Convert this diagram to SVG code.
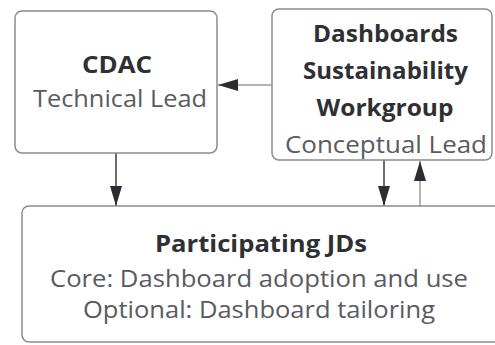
<svg xmlns="http://www.w3.org/2000/svg" width="495" height="345" viewBox="0 0 495 345">
  <defs>
    <marker id="head" viewBox="0 0 20 12" refX="20" refY="6" markerWidth="20" markerHeight="12" markerUnits="userSpaceOnUse" orient="auto">
      <path d="M0,0 L20,6 L0,12 Z" fill="#2b2d33"/>
    </marker>
    <style>
      .box { fill: #ffffff; stroke: #8c8c8c; stroke-width: 1.5; }
      .title { font-family: "Open Sans", "Liberation Sans", sans-serif; font-weight: 700; font-size: 22.5px; fill: #2f3033; text-anchor: middle; }
      .sub { font-family: "Open Sans", "Liberation Sans", sans-serif; font-weight: 400; font-size: 24.5px; fill: #595b60; text-anchor: middle; }
      .dark { stroke: #3a3b3f; stroke-width: 1.5; fill: none; }
      .light { stroke: #9a9a9a; stroke-width: 1.5; fill: none; }
    </style>
  </defs>
  <rect width="495" height="345" fill="#ffffff"/>

  <g id="connectors">
    <line class="light" x1="272" y1="85" x2="218" y2="85" marker-end="url(#head)"/>
    <line class="dark" x1="116" y1="153" x2="116" y2="206" marker-end="url(#head)"/>
    <line class="dark" x1="384" y1="160" x2="384" y2="206" marker-end="url(#head)"/>
    <line class="light" x1="420" y1="206" x2="420" y2="161" marker-end="url(#head)"/>
  </g>

  <g id="cdac">
    <rect class="box" x="15" y="11" width="202" height="142" rx="7"/>
    <text class="title" x="117" y="73" textLength="70" lengthAdjust="spacingAndGlyphs">CDAC</text>
    <text class="sub" x="120" y="107" textLength="174" lengthAdjust="spacingAndGlyphs">Technical Lead</text>
  </g>

  <g id="workgroup">
    <rect class="box" x="272" y="9" width="220" height="151" rx="7"/>
    <text class="title" x="385.5" y="42" textLength="145" lengthAdjust="spacingAndGlyphs">Dashboards</text>
    <text class="title" x="385.5" y="79" textLength="165" lengthAdjust="spacingAndGlyphs">Sustainability</text>
    <text class="title" x="385" y="116" textLength="137" lengthAdjust="spacingAndGlyphs">Workgroup</text>
    <text class="sub" x="386" y="153" textLength="202" lengthAdjust="spacingAndGlyphs">Conceptual Lead</text>
  </g>

  <g id="participating">
    <rect class="box" x="22" y="206" width="485" height="136" rx="7"/>
    <text class="title" x="261" y="252" textLength="212" lengthAdjust="spacingAndGlyphs">Participating JDs</text>
    <text class="sub" x="259" y="287" textLength="418" lengthAdjust="spacingAndGlyphs">Core: Dashboard adoption and use</text>
    <text class="sub" x="259" y="318" textLength="352" lengthAdjust="spacingAndGlyphs">Optional: Dashboard tailoring</text>
  </g>
</svg>
